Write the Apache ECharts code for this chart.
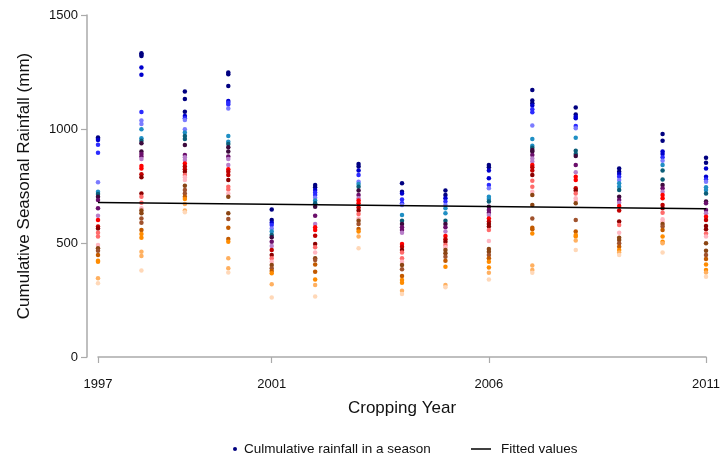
<!DOCTYPE html>
<html>
<head>
<meta charset="utf-8">
<script src="https://cdn.jsdelivr.net/npm/echarts@6/dist/echarts.min.js"></script>
<style>html,body{margin:0;padding:0;background:#fff}#c{width:723px;height:458px}</style>
</head>
<body>
<div id="c"></div>
<script>
// ---- data ----
const years = [1997,1998,1999,2000,2001,2002,2003,2004,2005,2006,2007,2008,2009,2010,2011];
const r1997 = [963,957,952,931,896,766,725,715,703,689,652,620,601,572,564,545,528,491,477,466,447,422,418,345,323];
const r1998 = [1332,1326,1320,1270,1238,1075,1037,1022,999,959,949,937,901,890,879,868,838,827,801,788,717,703,677,652,642,630,608,589,557,539,523,462,443,379];
const r1999 = [1164,1132,1076,1057,1047,1039,999,985,969,956,930,886,876,864,849,835,823,813,798,788,776,751,732,717,703,693,671,642,635];
const r2000 = [1248,1240,1189,1123,1115,1108,1090,969,944,934,920,901,879,868,842,823,813,798,776,747,735,717,703,630,605,567,518,506,433,389,371];
const r2001 = [647,601,589,579,564,550,535,525,506,487,469,447,433,418,404,389,377,367,319,261];
const r2002 = [754,744,732,721,711,699,686,674,659,620,583,569,557,532,496,481,458,433,425,406,374,340,316,265];
const r2003 = [846,835,818,798,769,759,747,730,711,696,686,674,656,642,627,608,598,583,561,550,528,477];
const r2004 = [762,725,717,691,674,667,623,598,583,569,557,545,496,484,469,458,433,418,404,385,355,338,326,291,276];
const r2005 = [730,711,696,682,667,652,630,598,583,569,550,531,516,506,491,481,469,455,440,422,396,316,306];
const r2006 = [842,832,818,784,754,740,703,693,682,659,645,633,623,608,594,583,572,557,509,474,462,447,433,418,393,370,340];
const r2007 = [1171,1125,1113,1103,1087,1073,1015,956,927,918,908,901,886,871,857,842,832,818,798,773,747,725,711,667,608,567,560,542,401,382,370];
const r2008 = [1094,1064,1054,1047,1013,1003,962,905,890,882,842,810,791,776,740,730,717,696,686,674,601,550,535,528,511,469];
const r2009 = [827,813,803,791,776,762,747,732,703,689,677,662,642,594,579,545,523,513,499,484,469,458,447];
const r2010 = [978,949,901,890,876,861,842,818,779,754,740,725,711,696,667,652,633,604,594,583,572,557,528,506,499,458];
const r2011 = [874,852,827,791,779,769,744,732,717,682,674,645,630,615,601,575,560,542,528,499,466,447,430,406,382,371,352];
const rainByYear = [r1997,r1998,r1999,r2000,r2001,r2002,r2003,r2004,r2005,r2006,r2007,r2008,r2009,r2010,r2011];
const fitYears = [1997, 2011];
const fitValues = [678, 650];
const xTickLabels = [1997, 2001, 2006, 2011];
const seriesNames = ['Culmulative rainfall in a season', 'Fitted values'];

// ---- style ----
const palette = ['#000080','#000080','#0000cd','#2b2bff','#7b7bff','#1f8fc4','#0b5e78','#3d0a3d',
  '#6b0f6b','#b87ec9','#ff0000','#c00000','#8b0000','#ff6b6b','#ffb6c1','#8b4513','#a0522d','#c25a00',
  '#ff8c00','#ffb060','#ffd8b8'];

const scatterData = [];
years.forEach((y, i) => {
  const vals = rainByYear[i];
  const n = vals.length;
  const sorted = vals.slice().sort((a,b)=>b-a);
  vals.forEach(v => {
    const rank = sorted.indexOf(v);
    const ci = Math.round(rank / (n - 1) * (palette.length - 1));
    scatterData.push({ value: [y, v], itemStyle: { color: palette[ci] } });
  });
});

const font = '"Liberation Sans", Arial, Helvetica, sans-serif';
const chart = echarts.init(document.getElementById('c'));
chart.setOption({
  animation: false,
  grid: { left: 98, right: 15, top: 15, bottom: 101, containLabel: false },
  xAxis: {
    type: 'value', min: 1997, max: 2011, offset: 13,
    name: 'Cropping Year', nameLocation: 'middle', nameGap: 30,
    nameTextStyle: { fontFamily: font, fontSize: 17, color: '#111' },
    axisLine: { show: true, lineStyle: { color: '#aaaaaa', width: 1.5 } },
    axisTick: { show: true, length: 6, lineStyle: { color: '#aaaaaa', width: 1.2 }, customValues: xTickLabels },
    axisLabel: { fontFamily: font, fontSize: 13, color: '#111', margin: 8, customValues: xTickLabels, formatter: v => String(v) },
    splitLine: { show: false }
  },
  yAxis: {
    type: 'value', min: 0, max: 1500, interval: 500, offset: 11,
    name: 'Cumulative Seasonal Rainfall (mm)', nameLocation: 'middle', nameGap: 54,
    nameTextStyle: { fontFamily: font, fontSize: 17, color: '#111' },
    axisLine: { show: true, lineStyle: { color: '#aaaaaa', width: 1.5 } },
    axisTick: { show: true, length: 6, lineStyle: { color: '#aaaaaa', width: 1.2 } },
    axisLabel: { fontFamily: font, fontSize: 13, color: '#111', margin: 9, formatter: v => String(v) },
    splitLine: { show: false }
  },
  legend: [
    { data: [{ name: seriesNames[0], icon: 'circle' }], left: 228, top: 437, itemWidth: 8, itemHeight: 4,
      textStyle: { fontFamily: font, fontSize: 13.5, color: '#111' } },
    { data: [{ name: seriesNames[1], icon: 'rect' }], left: 466, top: 437, itemWidth: 20, itemHeight: 1.5,
      textStyle: { fontFamily: font, fontSize: 13.5, color: '#111', padding: [0,0,0,5] } }
  ],
  series: [
    { name: seriesNames[0], type: 'scatter', symbol: 'circle', symbolSize: 4.5,
      itemStyle: { color: '#000080', opacity: 1 }, data: scatterData, z: 2 },
    { name: seriesNames[1], type: 'line', showSymbol: false, symbol: 'none',
      lineStyle: { color: '#000', width: 1.5 }, itemStyle: { color: '#000' },
      data: fitYears.map((y, i) => [y, fitValues[i]]), z: 3 }
  ]
});
</script>
</body>
</html>
